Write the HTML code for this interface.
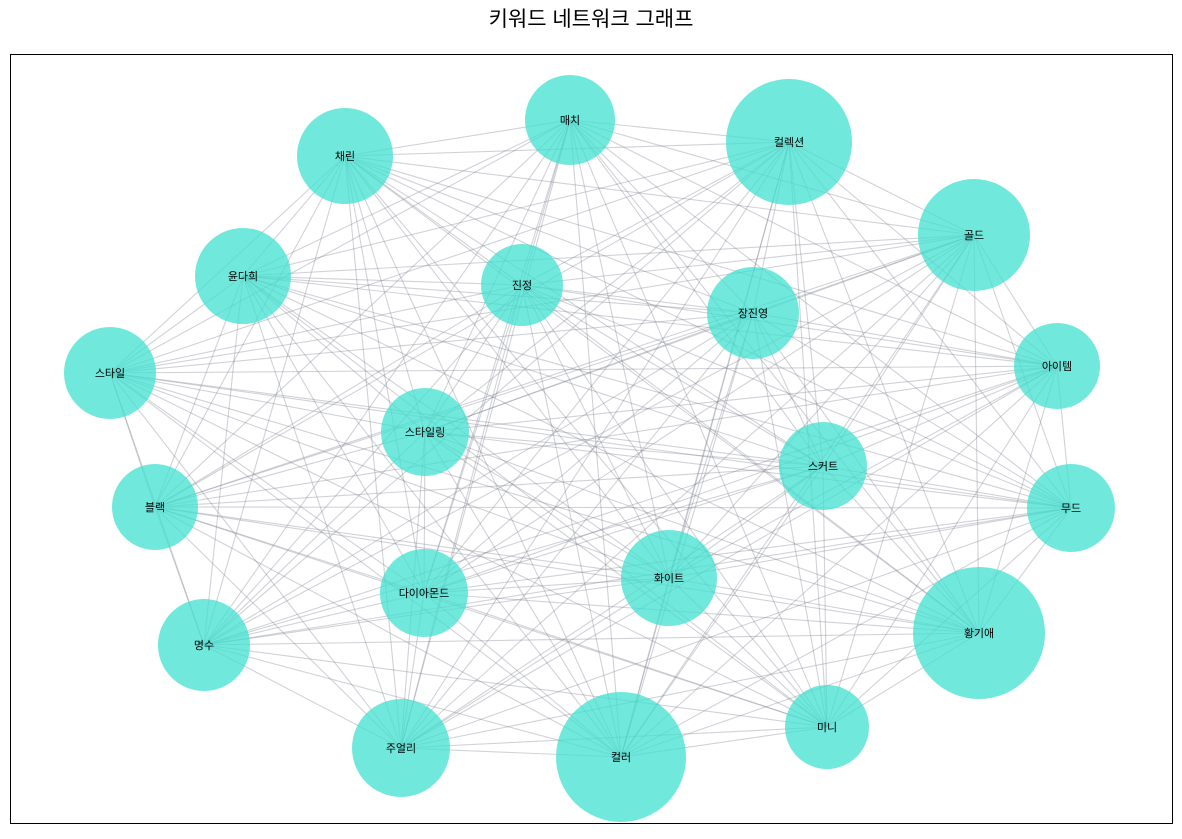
<!DOCTYPE html>
<html><head><meta charset="utf-8">
<style>
body{margin:0;background:#fff;font-family:"Liberation Sans","Noto Sans CJK KR",sans-serif;}
svg text{font-family:"Liberation Sans","Noto Sans CJK KR",sans-serif;}
</style></head>
<body>
<svg id="chart" width="1182" height="834" xmlns="http://www.w3.org/2000/svg">
<text x="591" y="26" text-anchor="middle" font-size="21" fill="#000">키워드 네트워크 그래프</text>
<rect x="10.5" y="54.5" width="1162" height="769" fill="none" stroke="#000" stroke-width="1"/>
<g id="edges"></g>
<g id="nodes"></g>
</svg>
<script>
const labels = ["매치","컬렉션","채린","골드","윤다희","진정","장진영","스타일","아이템","스타일링","스커트","블랙","무드","화이트","다이아몬드","명수","황기애","주얼리","컬러","미니"];
const nodeX = [560,779,335,964,233,512,743,100,1047,415,813,145,1061,659,414,194,969,391,611,817];
const nodeY = [66,88,102,181,222,231,259,319,312,378,412,453,454,524,539,591,579,694,703,673];
const nodeR = [45,63,48,56,48,41,46,46,43,44,44,43,44,48,44,46,66,49,65,42];
const xs = v => 10 + v;
const ys = v => 54 + v;
const NS = "http://www.w3.org/2000/svg";
const eg = document.getElementById('edges');
const ng = document.getElementById('nodes');
for (let i = 0; i < labels.length; i++) {
  for (let j = i + 1; j < labels.length; j++) {
    const l = document.createElementNS(NS, 'line');
    
    
    l.setAttribute('x1', xs(nodeX[i])); l.setAttribute('y1', ys(nodeY[i]));
    l.setAttribute('x2', xs(nodeX[j])); l.setAttribute('y2', ys(nodeY[j]));
    l.setAttribute('stroke', '#7a7f8c'); l.setAttribute('stroke-opacity', '0.35');
    l.setAttribute('stroke-width', '1.1');
    eg.appendChild(l);
  }
}
for (let i = 0; i < labels.length; i++) {
  const c = document.createElementNS(NS, 'circle');
  
  
  c.setAttribute('cx', xs(nodeX[i])); c.setAttribute('cy', ys(nodeY[i]));
  c.setAttribute('r', nodeR[i]);
  c.setAttribute('fill', '#40E0D0'); c.setAttribute('fill-opacity', '0.75');
  ng.appendChild(c);
  const t = document.createElementNS(NS, 'text');
  
  
  t.setAttribute('x', xs(nodeX[i])); t.setAttribute('y', ys(nodeY[i]) + 4);
  t.setAttribute('text-anchor', 'middle'); t.setAttribute('font-size', '11');
  t.textContent = labels[i];
  ng.appendChild(t);
}
</script>
</body></html>
